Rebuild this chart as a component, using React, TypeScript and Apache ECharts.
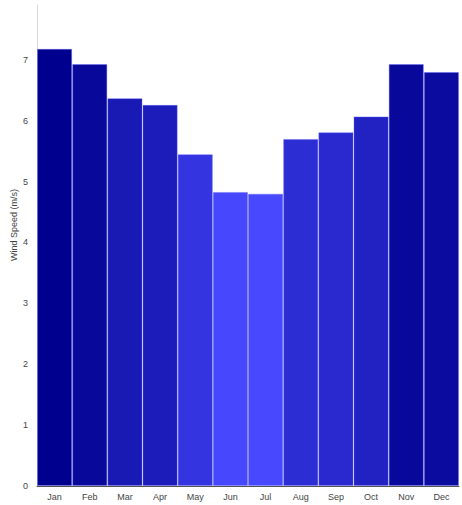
import React, { useEffect, useRef } from "react";
import * as echarts from "echarts";

const months = ["Jan", "Feb", "Mar", "Apr", "May", "Jun", "Jul", "Aug", "Sep", "Oct", "Nov", "Dec"];
const windSpeed = [7.18, 6.93, 6.37, 6.26, 5.45, 4.83, 4.8, 5.7, 5.81, 6.07, 6.93, 6.8];
const yAxisTitle = "Wind Speed (m/s)";

export default function App() {
  const ref = useRef<HTMLDivElement>(null);
  useEffect(() => {
    const chart = echarts.init(ref.current!, null, { renderer: "svg" });
    chart.setOption({
      animation: false,
      grid: { left: 37, right: 3, top: 5, bottom: 19 },
      visualMap: {
        show: false,
        type: "continuous",
        dimension: 1,
        min: 4.8,
        max: 7.18,
        inRange: { color: ["#4848ff", "#00008e"] },
      },
      xAxis: {
        type: "category",
        data: months,
        axisLine: { lineStyle: { color: "#555", width: 1 } },
        axisTick: { show: false },
        axisLabel: { color: "#444", fontSize: 9, fontFamily: "Liberation Sans", margin: 6 },
      },
      yAxis: {
        type: "value",
        min: 0,
        max: 7.9,
        interval: 1,
        axisLine: { show: true, lineStyle: { color: "#d8d8d8", width: 1 } },
        axisTick: { show: false },
        splitLine: { show: false },
        axisLabel: {
          color: "#444",
          fontSize: 9,
          fontFamily: "Liberation Sans",
          margin: 9,
          showMaxLabel: false,
        },
      },
      graphic: [
        {
          type: "text",
          x: 14,
          y: 225,
          rotation: Math.PI / 2,
          style: {
            text: yAxisTitle,
            fill: "#444",
            fontSize: 9,
            fontFamily: "Liberation Sans",
            align: "center",
            verticalAlign: "middle",
          },
        },
      ],
      series: [
        {
          type: "bar",
          data: windSpeed,
          barCategoryGap: 0,
          itemStyle: { borderColor: "rgba(100,100,255,0.4)", borderWidth: 1 },
        },
      ],
    });
    return () => chart.dispose();
  }, []);
  return <div ref={ref} style={{ width: 462, height: 505, position: "absolute", left: 0, top: 0 }} />;
}
